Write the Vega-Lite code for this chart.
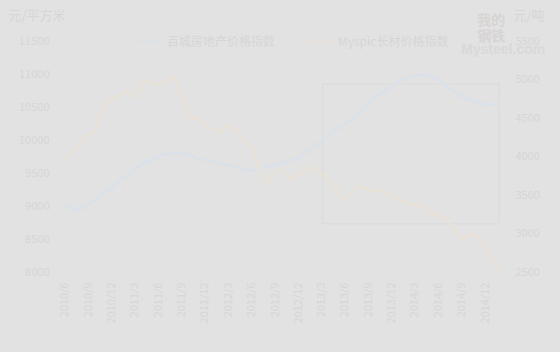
{
  "$schema": "https://vega.github.io/schema/vega-lite/v6.json",
  "autosize": {"type": "none"},
  "width": 451,
  "height": 231,
  "padding": {"left": 57, "top": 41, "right": 52, "bottom": 80},
  "background": "#e2e2e2",
  "config": {
    "view": {"stroke": null},
    "font": "Noto Sans CJK SC",
    "axis": {"labelColor": "#d6d6d6", "titleColor": "#d6d6d6", "labelFontSize": 11, "domain": false, "ticks": false, "grid": false, "titleFontWeight": "normal", "titleFontSize": 13, "labelOverlap": false},
    "legend": {"labelColor": "#d6d6d6"}
  },
  "datasets": {
    "series": [
      {"date": "2010-06-01", "house": 9020, "steel": 3980},
      {"date": "2010-07-01", "house": 8974, "steel": 4040},
      {"date": "2010-08-01", "house": 8939, "steel": 4193},
      {"date": "2010-09-01", "house": 9020, "steel": 4291},
      {"date": "2010-10-01", "house": 9100, "steel": 4330},
      {"date": "2010-11-01", "house": 9189, "steel": 4675},
      {"date": "2010-12-01", "house": 9271, "steel": 4743},
      {"date": "2011-01-01", "house": 9391, "steel": 4805},
      {"date": "2011-02-01", "house": 9474, "steel": 4858},
      {"date": "2011-03-01", "house": 9565, "steel": 4770},
      {"date": "2011-04-01", "house": 9641, "steel": 4951},
      {"date": "2011-05-01", "house": 9701, "steel": 4979},
      {"date": "2011-06-01", "house": 9756, "steel": 4929},
      {"date": "2011-07-01", "house": 9786, "steel": 4992},
      {"date": "2011-08-01", "house": 9803, "steel": 5023},
      {"date": "2011-09-01", "house": 9803, "steel": 4822},
      {"date": "2011-10-01", "house": 9774, "steel": 4497},
      {"date": "2011-11-01", "house": 9726, "steel": 4492},
      {"date": "2011-12-01", "house": 9701, "steel": 4414},
      {"date": "2012-01-01", "house": 9676, "steel": 4357},
      {"date": "2012-02-01", "house": 9648, "steel": 4317},
      {"date": "2012-03-01", "house": 9620, "steel": 4397},
      {"date": "2012-04-01", "house": 9592, "steel": 4343},
      {"date": "2012-05-01", "house": 9542, "steel": 4204},
      {"date": "2012-06-01", "house": 9529, "steel": 4112},
      {"date": "2012-07-01", "house": 9571, "steel": 3841},
      {"date": "2012-08-01", "house": 9597, "steel": 3661},
      {"date": "2012-09-01", "house": 9621, "steel": 3762},
      {"date": "2012-10-01", "house": 9656, "steel": 3832},
      {"date": "2012-11-01", "house": 9689, "steel": 3707},
      {"date": "2012-12-01", "house": 9727, "steel": 3750},
      {"date": "2013-01-01", "house": 9812, "steel": 3814},
      {"date": "2013-02-01", "house": 9897, "steel": 3864},
      {"date": "2013-03-01", "house": 9991, "steel": 3780},
      {"date": "2013-04-01", "house": 10085, "steel": 3704},
      {"date": "2013-05-01", "house": 10150, "steel": 3573},
      {"date": "2013-06-01", "house": 10239, "steel": 3438},
      {"date": "2013-07-01", "house": 10327, "steel": 3532},
      {"date": "2013-08-01", "house": 10418, "steel": 3615},
      {"date": "2013-09-01", "house": 10536, "steel": 3567},
      {"date": "2013-10-01", "house": 10651, "steel": 3548},
      {"date": "2013-11-01", "house": 10738, "steel": 3551},
      {"date": "2013-12-01", "house": 10824, "steel": 3501},
      {"date": "2014-01-01", "house": 10889, "steel": 3448},
      {"date": "2014-02-01", "house": 10941, "steel": 3392},
      {"date": "2014-03-01", "house": 10972, "steel": 3369},
      {"date": "2014-04-01", "house": 10995, "steel": 3373},
      {"date": "2014-05-01", "house": 10965, "steel": 3277},
      {"date": "2014-06-01", "house": 10904, "steel": 3229},
      {"date": "2014-07-01", "house": 10819, "steel": 3202},
      {"date": "2014-08-01", "house": 10736, "steel": 3067},
      {"date": "2014-09-01", "house": 10651, "steel": 2919},
      {"date": "2014-10-01", "house": 10616, "steel": 2992},
      {"date": "2014-11-01", "house": 10579, "steel": 2964},
      {"date": "2014-12-01", "house": 10535, "steel": 2815},
      {"date": "2015-01-01", "house": 10535, "steel": 2673},
      {"date": "2015-02-01", "house": 10535, "steel": 2539}
    ],
    "box": [
      {"d1": "2013-03-06", "d2": "2015-01-25", "y1": 4942, "y2": 3126}
    ],
    "logo": [
      {"date": "2014-12-25", "v": 11800, "t": "我的"},
      {"date": "2014-12-25", "v": 11560, "t": "钢铁"}
    ],
    "site": [
      {"date": "2015-02-10", "v": 11368, "t": "Mysteel.com"}
    ]
  },
  "layer": [
    {
      "data": {"name": "box"},
      "mark": {"type": "rect", "fill": null, "stroke": "#dadada", "strokeWidth": 1},
      "encoding": {
        "x": {"field": "d1", "type": "temporal", "scale": {"type": "utc", "domain": [{"year": 2010, "month": 5, "date": 1, "utc": true}, {"year": 2015, "month": 3, "date": 1, "utc": true}]}, "axis": null},
        "x2": {"field": "d2"},
        "y": {"field": "y1", "type": "quantitative", "scale": {"domain": [2500, 5500], "nice": false, "zero": false}, "axis": null},
        "y2": {"field": "y2"}
      }
    },
    {
      "data": {"name": "series"},
      "mark": {"type": "line", "strokeWidth": 2.75},
      "encoding": {
        "x": {
          "field": "date", "type": "temporal",
          "scale": {"type": "utc", "domain": [{"year": 2010, "month": 5, "date": 1, "utc": true}, {"year": 2015, "month": 3, "date": 1, "utc": true}]},
          "axis": {
            "values": [
              {"year": 2010, "month": 6, "date": 1, "utc": true},
              {"year": 2010, "month": 9, "date": 1, "utc": true},
              {"year": 2010, "month": 12, "date": 1, "utc": true},
              {"year": 2011, "month": 3, "date": 1, "utc": true},
              {"year": 2011, "month": 6, "date": 1, "utc": true},
              {"year": 2011, "month": 9, "date": 1, "utc": true},
              {"year": 2011, "month": 12, "date": 1, "utc": true},
              {"year": 2012, "month": 3, "date": 1, "utc": true},
              {"year": 2012, "month": 6, "date": 1, "utc": true},
              {"year": 2012, "month": 9, "date": 1, "utc": true},
              {"year": 2012, "month": 12, "date": 1, "utc": true},
              {"year": 2013, "month": 3, "date": 1, "utc": true},
              {"year": 2013, "month": 6, "date": 1, "utc": true},
              {"year": 2013, "month": 9, "date": 1, "utc": true},
              {"year": 2013, "month": 12, "date": 1, "utc": true},
              {"year": 2014, "month": 3, "date": 1, "utc": true},
              {"year": 2014, "month": 6, "date": 1, "utc": true},
              {"year": 2014, "month": 9, "date": 1, "utc": true},
              {"year": 2014, "month": 12, "date": 1, "utc": true}
            ],
            "labelExpr": "utcFormat(datum.value, '%Y/%-m')",
            "labelAngle": 270,
            "labelPadding": 10,
            "labelOverlap": false,
            "title": null
          }
        },
        "y": {
          "field": "house", "type": "quantitative",
          "scale": {"domain": [8000, 11500], "nice": false, "zero": false},
          "axis": {
            "values": [8000, 8500, 9000, 9500, 10000, 10500, 11000, 11500],
            "format": "d",
            "labelOverlap": false,
            "labelPadding": 8,
            "title": "元/平方米",
            "titleAngle": 0,
            "titleAlign": "left",
            "titleBaseline": "middle",
            "titleX": -49,
            "titleY": -26
          }
        },
        "color": {
          "datum": "百城房地产价格指数",
          "type": "nominal",
          "scale": {"domain": ["百城房地产价格指数", "Myspic长材价格指数"], "range": ["#dae1e9", "#e8e1d8"]},
          "legend": {
            "orient": "none",
            "legendX": 79,
            "legendY": -14,
            "direction": "horizontal",
            "title": null,
            "symbolType": "stroke",
            "symbolSize": 784,
            "symbolStrokeWidth": 2,
            "labelFontSize": 12,
            "labelOffset": 1,
            "columnPadding": 28
          }
        }
      }
    },
    {
      "data": {"name": "series"},
      "mark": {"type": "line", "strokeWidth": 2.75},
      "encoding": {
        "x": {"field": "date", "type": "temporal", "axis": null},
        "y": {
          "field": "steel", "type": "quantitative",
          "scale": {"domain": [2500, 5500], "nice": false, "zero": false},
          "axis": {
            "orient": "right",
            "values": [2500, 3000, 3500, 4000, 4500, 5000, 5500],
            "format": "d",
            "labelOverlap": false,
            "labelPadding": 7,
            "title": "元/吨",
            "titleAngle": 0,
            "titleAlign": "left",
            "titleBaseline": "middle",
            "titleX": 5,
            "titleY": -26
          }
        },
        "color": {"datum": "Myspic长材价格指数", "type": "nominal"}
      }
    },
    {
      "data": {"name": "logo"},
      "mark": {"type": "text", "fontWeight": "bold", "fontSize": 14, "color": "#d8d4d4", "align": "center", "baseline": "middle"},
      "encoding": {
        "x": {"field": "date", "type": "temporal", "axis": null},
        "y": {"field": "v", "type": "quantitative", "scale": {"domain": [8000, 11500], "nice": false, "zero": false}, "axis": null},
        "text": {"field": "t"}
      }
    },
    {
      "data": {"name": "site"},
      "mark": {"type": "text", "fontWeight": "bold", "fontSize": 14, "font": "Liberation Sans", "color": "#d9d9d9", "align": "center", "baseline": "middle"},
      "encoding": {
        "x": {"field": "date", "type": "temporal", "axis": null},
        "y": {"field": "v", "type": "quantitative", "scale": {"domain": [8000, 11500], "nice": false, "zero": false}, "axis": null},
        "text": {"field": "t"}
      }
    }
  ],
  "resolve": {"scale": {"y": "independent", "x": "shared"}, "axis": {"y": "independent", "x": "independent"}}
}
